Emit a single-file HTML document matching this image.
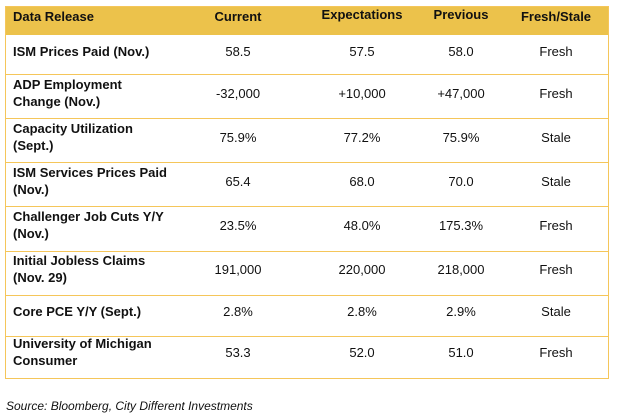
<!DOCTYPE html>
<html><head><style>
body{margin:0;width:617px;height:417px;background:#fff;font-family:"Liberation Sans",sans-serif;color:#111;position:relative;overflow:hidden}
.t{position:absolute;left:5px;top:6px;width:604px;height:373px;border:1px solid #f5c65a;box-sizing:border-box}
.h{position:absolute;left:5px;top:6px;width:604px;height:29px;background:#ecc24b}
.l{position:absolute;left:5px;width:604px;height:1px;background:#f5c65a}
.x{position:absolute;font-size:13px;line-height:17px;white-space:nowrap}
.b{font-weight:bold}
.c{transform:translateX(-50%)}
</style></head><body>
<div class="h"></div><div class="t"></div>
<div class="l" style="top:74px"></div><div class="l" style="top:118px"></div><div class="l" style="top:162px"></div><div class="l" style="top:206px"></div><div class="l" style="top:251px"></div><div class="l" style="top:295px"></div><div class="l" style="top:336px"></div>
<div class="x b" style="left:13px;top:8px">Data Release</div>
<div class="x b c" style="left:238px;top:8px">Current</div>
<div class="x b c" style="left:362px;top:6px">Expectations</div>
<div class="x b c" style="left:461px;top:6px">Previous</div>
<div class="x b c" style="left:556px;top:8px">Fresh/Stale</div>

<div class="x b" style="left:13px;top:43px">ISM Prices Paid (Nov.)</div>
<div class="x c" style="left:238px;top:43px">58.5</div><div class="x c" style="left:362px;top:43px">57.5</div><div class="x c" style="left:461px;top:43px">58.0</div><div class="x c" style="left:556px;top:43px">Fresh</div>

<div class="x b" style="left:13px;top:76px">ADP Employment<br>Change (Nov.)</div>
<div class="x c" style="left:238px;top:85px">-32,000</div><div class="x c" style="left:362px;top:85px">+10,000</div><div class="x c" style="left:461px;top:85px">+47,000</div><div class="x c" style="left:556px;top:85px">Fresh</div>

<div class="x b" style="left:13px;top:120px">Capacity Utilization<br>(Sept.)</div>
<div class="x c" style="left:238px;top:129px">75.9%</div><div class="x c" style="left:362px;top:129px">77.2%</div><div class="x c" style="left:461px;top:129px">75.9%</div><div class="x c" style="left:556px;top:129px">Stale</div>

<div class="x b" style="left:13px;top:164px">ISM Services Prices Paid<br>(Nov.)</div>
<div class="x c" style="left:238px;top:173px">65.4</div><div class="x c" style="left:362px;top:173px">68.0</div><div class="x c" style="left:461px;top:173px">70.0</div><div class="x c" style="left:556px;top:173px">Stale</div>

<div class="x b" style="left:13px;top:208px">Challenger Job Cuts Y/Y<br>(Nov.)</div>
<div class="x c" style="left:238px;top:217px">23.5%</div><div class="x c" style="left:362px;top:217px">48.0%</div><div class="x c" style="left:461px;top:217px">175.3%</div><div class="x c" style="left:556px;top:217px">Fresh</div>

<div class="x b" style="left:13px;top:252px">Initial Jobless Claims<br>(Nov. 29)</div>
<div class="x c" style="left:238px;top:261px">191,000</div><div class="x c" style="left:362px;top:261px">220,000</div><div class="x c" style="left:461px;top:261px">218,000</div><div class="x c" style="left:556px;top:261px">Fresh</div>

<div class="x b" style="left:13px;top:303px">Core PCE Y/Y (Sept.)</div>
<div class="x c" style="left:238px;top:303px">2.8%</div><div class="x c" style="left:362px;top:303px">2.8%</div><div class="x c" style="left:461px;top:303px">2.9%</div><div class="x c" style="left:556px;top:303px">Stale</div>

<div class="x b" style="left:13px;top:335px">University of Michigan<br>Consumer</div>
<div class="x c" style="left:238px;top:344px">53.3</div><div class="x c" style="left:362px;top:344px">52.0</div><div class="x c" style="left:461px;top:344px">51.0</div><div class="x c" style="left:556px;top:344px">Fresh</div>

<div class="x" style="left:6px;top:398px;font-style:italic;font-size:12px">Source: Bloomberg, City Different Investments</div>
</body></html>
